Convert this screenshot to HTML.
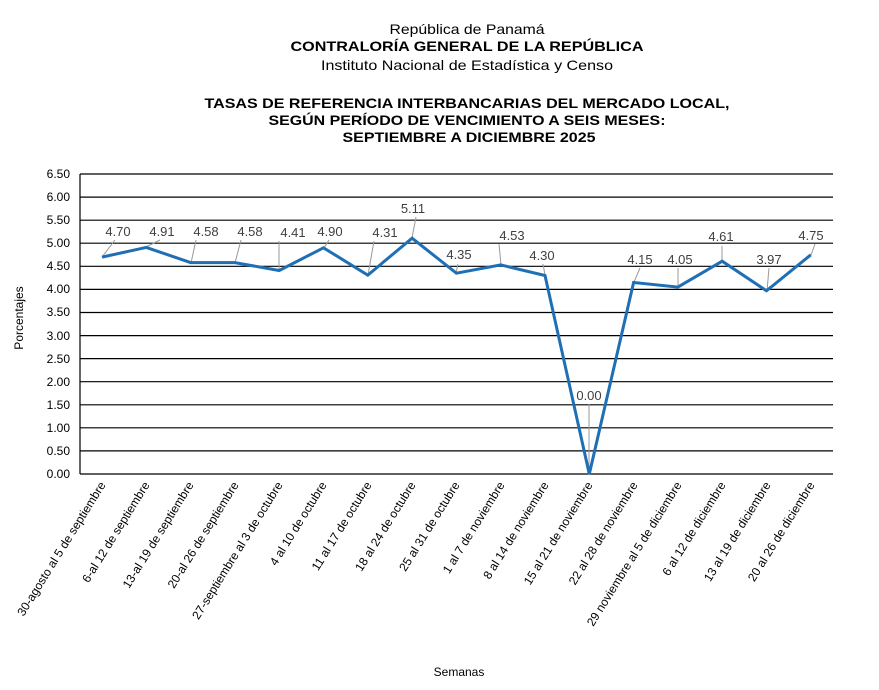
<!DOCTYPE html>
<html><head><meta charset="utf-8"><style>body{margin:0;background:#fff}</style></head><body>
<svg width="879" height="685" xmlns="http://www.w3.org/2000/svg" font-family="Liberation Sans, sans-serif">
<rect width="879" height="685" fill="#fff"/>
<g text-anchor="middle" fill="#000">
<text x="467" y="34" font-size="14" textLength="155" lengthAdjust="spacingAndGlyphs">República de Panamá</text>
<text x="467" y="51" font-size="14" font-weight="bold" textLength="353" lengthAdjust="spacingAndGlyphs">CONTRALORÍA GENERAL DE LA REPÚBLICA</text>
<text x="467" y="70" font-size="14" textLength="292" lengthAdjust="spacingAndGlyphs">Instituto Nacional de Estadística y Censo</text>
<text x="467" y="108" font-size="14" font-weight="bold" textLength="525" lengthAdjust="spacingAndGlyphs">TASAS DE REFERENCIA INTERBANCARIAS DEL MERCADO LOCAL,</text>
<text x="467" y="125" font-size="14" font-weight="bold" textLength="397" lengthAdjust="spacingAndGlyphs">SEGÚN PERÍODO DE VENCIMIENTO A SEIS MESES:</text>
<text x="469" y="142" font-size="14" font-weight="bold" textLength="253" lengthAdjust="spacingAndGlyphs">SEPTIEMBRE A DICIEMBRE 2025</text>
</g>
<g stroke="#000" stroke-width="1.2">
<line x1="80" y1="174" x2="833" y2="174"/><line x1="80" y1="197.1" x2="833" y2="197.1"/><line x1="80" y1="220.2" x2="833" y2="220.2"/><line x1="80" y1="243.2" x2="833" y2="243.2"/><line x1="80" y1="266.3" x2="833" y2="266.3"/><line x1="80" y1="289.4" x2="833" y2="289.4"/><line x1="80" y1="312.5" x2="833" y2="312.5"/><line x1="80" y1="335.6" x2="833" y2="335.6"/><line x1="80" y1="358.6" x2="833" y2="358.6"/><line x1="80" y1="381.7" x2="833" y2="381.7"/><line x1="80" y1="404.8" x2="833" y2="404.8"/><line x1="80" y1="427.8" x2="833" y2="427.8"/><line x1="80" y1="450.9" x2="833" y2="450.9"/><line x1="80" y1="474" x2="833" y2="474"/>
<line x1="80" y1="174" x2="80" y2="474"/>
</g>
<g font-size="12" text-anchor="end" fill="#000">
<text x="70" y="178">6.50</text><text x="70" y="201">6.00</text><text x="70" y="224">5.50</text><text x="70" y="247">5.00</text><text x="70" y="270">4.50</text><text x="70" y="293">4.00</text><text x="70" y="316">3.50</text><text x="70" y="340">3.00</text><text x="70" y="363">2.50</text><text x="70" y="386">2.00</text><text x="70" y="409">1.50</text><text x="70" y="432">1.00</text><text x="70" y="455">0.50</text><text x="70" y="478">0.00</text>
</g>
<text transform="translate(23,318) rotate(-90)" font-size="12" text-anchor="middle">Porcentajes</text>
<text x="459" y="676" font-size="12" text-anchor="middle">Semanas</text>
<g stroke="#999" stroke-width="1">
<line x1="102" y1="257" x2="115" y2="240"/><line x1="146" y1="247" x2="160" y2="240"/><line x1="191" y1="263" x2="196" y2="240"/><line x1="235" y1="263" x2="241" y2="240"/><line x1="279" y1="270" x2="279" y2="241"/><line x1="324" y1="248" x2="329" y2="240"/><line x1="368" y1="275" x2="374" y2="241"/><line x1="412" y1="238" x2="416" y2="217"/><line x1="456" y1="273" x2="458" y2="264"/><line x1="501" y1="265" x2="499" y2="244"/><line x1="545" y1="275" x2="543" y2="264"/><line x1="589" y1="474" x2="589" y2="404"/><line x1="634" y1="282" x2="640" y2="268"/><line x1="678" y1="287" x2="678" y2="268"/><line x1="722" y1="261" x2="722" y2="246"/><line x1="767" y1="291" x2="769" y2="268"/><line x1="811" y1="255" x2="815" y2="244"/>
</g>
<polyline fill="none" stroke="#1f6fb4" stroke-width="3" stroke-linejoin="miter" points="102,257.1 146.3,247.4 190.6,262.6 234.9,262.6 279.2,270.5 323.5,247.8 367.8,275.1 412.1,238.2 456.4,273.2 500.7,264.9 545,275.5 589.3,474 633.6,282.5 677.9,287.1 722.2,261.2 766.5,290.8 810.8,254.8"/>
<g font-size="13" fill="#404040" text-anchor="middle">
<text x="118" y="236">4.70</text><text x="162" y="236">4.91</text><text x="206" y="236">4.58</text><text x="250" y="236">4.58</text><text x="293" y="237">4.41</text><text x="330" y="236">4.90</text><text x="385" y="237">4.31</text><text x="413" y="213">5.11</text><text x="459" y="259">4.35</text><text x="512" y="240">4.53</text><text x="542" y="260">4.30</text><text x="589" y="400">0.00</text><text x="640" y="264">4.15</text><text x="680" y="264">4.05</text><text x="721" y="241">4.61</text><text x="769" y="264">3.97</text><text x="811" y="240">4.75</text>
</g>
<g font-size="12" text-anchor="end" fill="#000">
<text transform="translate(106,485) rotate(-58)">30-agosto al 5 de septiembre</text>
<text transform="translate(150,485) rotate(-58)">6-al 12 de septiembre</text>
<text transform="translate(194,485) rotate(-58)">13-al 19 de septiembre</text>
<text transform="translate(239,485) rotate(-58)">20-al 26 de septiembre</text>
<text transform="translate(283,485) rotate(-58)">27-septiembre al 3 de octubre</text>
<text transform="translate(327,485) rotate(-58)">4 al 10 de octubre</text>
<text transform="translate(372,485) rotate(-58)">11 al 17 de octubre</text>
<text transform="translate(416,485) rotate(-58)">18 al 24 de octubre</text>
<text transform="translate(460,485) rotate(-58)">25 al 31 de octubre</text>
<text transform="translate(505,485) rotate(-58)">1 al 7 de noviembre</text>
<text transform="translate(549,485) rotate(-58)">8 al 14 de noviembre</text>
<text transform="translate(593,485) rotate(-58)">15 al 21 de noviembre</text>
<text transform="translate(638,485) rotate(-58)">22 al 28 de noviembre</text>
<text transform="translate(682,485) rotate(-58)">29 noviembre al 5 de diciembre</text>
<text transform="translate(726,485) rotate(-58)">6 al 12 de diciembre</text>
<text transform="translate(771,485) rotate(-58)">13 al 19 de diciembre</text>
<text transform="translate(815,485) rotate(-58)">20 al 26 de diciembre</text>
</g>
</svg>
</body></html>
